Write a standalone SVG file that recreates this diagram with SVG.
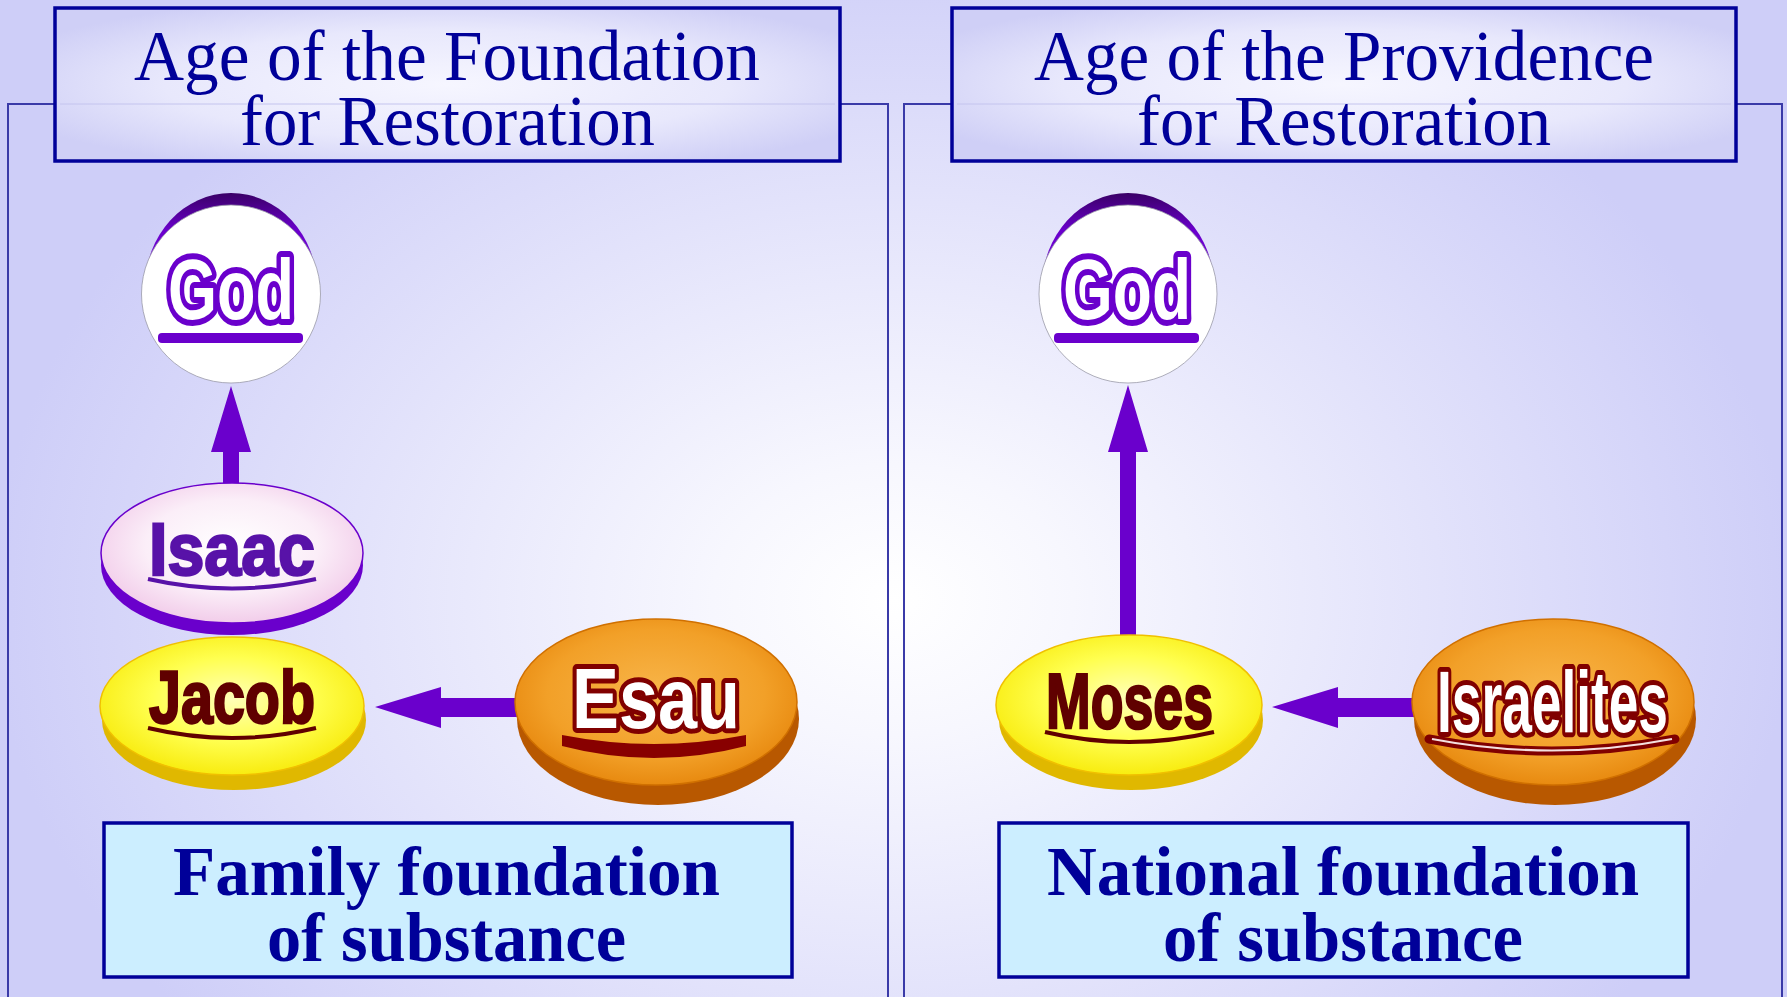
<svg xmlns="http://www.w3.org/2000/svg" width="1787" height="997" viewBox="0 0 1787 997">
<defs>
<radialGradient id="bg" gradientUnits="userSpaceOnUse" cx="893" cy="600" r="900" gradientTransform="translate(893 600) scale(1 0.75) translate(-893 -600)">
<stop offset="0" stop-color="#ffffff"/>
<stop offset="0.2" stop-color="#f7f7fe"/>
<stop offset="1" stop-color="#cecef8"/>
</radialGradient>
<radialGradient id="titleFill" cx="0.5" cy="0.5" r="0.6">
<stop offset="0" stop-color="#f6f6ff"/>
<stop offset="0.6" stop-color="#e8e8fc"/>
<stop offset="1" stop-color="#cfcff6"/>
</radialGradient>
<linearGradient id="godCap" x1="0" y1="0" x2="0" y2="1">
<stop offset="0" stop-color="#3a0066"/>
<stop offset="0.2" stop-color="#6a00cc"/>
<stop offset="1" stop-color="#8a20ee"/>
</linearGradient>
<radialGradient id="isaacFace" cx="0.5" cy="0.45" r="0.55">
<stop offset="0" stop-color="#ffffff"/>
<stop offset="0.6" stop-color="#fbeef8"/>
<stop offset="1" stop-color="#f2cdea"/>
</radialGradient>
<radialGradient id="yellowFace" cx="0.5" cy="0.45" r="0.55">
<stop offset="0" stop-color="#ffffb8"/>
<stop offset="0.55" stop-color="#ffff50"/>
<stop offset="1" stop-color="#f8ec10"/>
</radialGradient>
<radialGradient id="orangeFace" cx="0.5" cy="0.45" r="0.55">
<stop offset="0" stop-color="#f8b54a"/>
<stop offset="0.7" stop-color="#f2a028"/>
<stop offset="1" stop-color="#e88a10"/>
</radialGradient>
</defs>
<style>
.panel{fill:none;stroke:#3a3aa8;stroke-width:2}
.title{fill:url(#titleFill);stroke:#000099;stroke-width:3.5}
.titleText{font-family:"Liberation Serif","Times New Roman",serif;font-size:71px;fill:#000099;text-anchor:start}
.foot{fill:#cceeff;stroke:#000099;stroke-width:3.5}
.footText{font-family:"Liberation Serif","Times New Roman",serif;font-size:70px;font-weight:bold;fill:#000099}
.lbl{font-family:"Liberation Sans",Arial,sans-serif;font-weight:bold}
.godTxt{fill:#ffffff;stroke:#6a00cc;stroke-width:12;paint-order:stroke;stroke-linejoin:round}
.purpleTxt{fill:#5812a8;stroke:#5812a8;stroke-width:2.5}
.maroonTxt{fill:#600000;stroke:#600000;stroke-width:2.5}
.whiteTxt{fill:#ffffff;stroke:#800000;stroke-width:10;paint-order:stroke;stroke-linejoin:round}
.arrow{fill:#6a00cc}
</style>
<rect x="0" y="0" width="1787" height="997" fill="url(#bg)"/>
<rect class="panel" x="8" y="104" width="880" height="900"/>
<rect class="panel" x="904" y="104" width="878" height="900"/>

<g id="title-left">
<rect class="title" x="55" y="8" width="785" height="153"/>
<line x1="60" y1="104" x2="835" y2="104" stroke="#c4c4ee" stroke-width="1"/>
<text class="titleText" x="134" y="80" textLength="626" lengthAdjust="spacingAndGlyphs">Age of the Foundation</text>
<text class="titleText" x="240" y="145" textLength="415" lengthAdjust="spacingAndGlyphs">for Restoration</text>
</g>
<g id="title-right">
<rect class="title" x="952" y="8" width="784" height="153"/>
<line x1="957" y1="104" x2="1731" y2="104" stroke="#c4c4ee" stroke-width="1"/>
<text class="titleText" x="1034" y="80" textLength="620" lengthAdjust="spacingAndGlyphs">Age of the Providence</text>
<text class="titleText" x="1137" y="145" textLength="414" lengthAdjust="spacingAndGlyphs">for Restoration</text>
</g>

<g id="connectors">
<polygon class="arrow" points="223,490 239,490 239,452 251,452 231,386 211,452 223,452"/>
<polygon class="arrow" points="1120,640 1136,640 1136,452 1148,452 1128,385 1108,452 1120,452"/>
<polygon class="arrow" points="520,698 520,717 441,717 441,728 375,707 441,687 441,698"/>
<polygon class="arrow" points="1417,698 1417,717 1338,717 1338,728 1272,707 1338,687 1338,698"/>
</g>

<g id="node-god-left">
<ellipse cx="231" cy="287" rx="86" ry="94" fill="url(#godCap)"/>
<ellipse cx="231" cy="294" rx="89.5" ry="89" fill="#ffffff" stroke="#9a9aa8" stroke-width="0.8"/>
<text class="lbl godTxt" x="168" y="319" font-size="85" textLength="126" lengthAdjust="spacingAndGlyphs">God</text>
<rect x="158" y="333" width="145" height="10" rx="4" fill="#6a00cc"/>
</g>
<g id="node-god-right">
<ellipse cx="1128" cy="287" rx="86" ry="94" fill="url(#godCap)"/>
<ellipse cx="1128" cy="294" rx="89" ry="89" fill="#ffffff" stroke="#9a9aa8" stroke-width="0.8"/>
<text class="lbl godTxt" x="1063" y="319" font-size="85" textLength="128" lengthAdjust="spacingAndGlyphs">God</text>
<rect x="1054" y="333" width="145" height="10" rx="4" fill="#6a00cc"/>
</g>

<g id="node-isaac">
<ellipse cx="232" cy="565" rx="131" ry="70" fill="#6a00cc"/>
<ellipse cx="232" cy="553" rx="131" ry="70" fill="url(#isaacFace)" stroke="#6a00cc" stroke-width="1.5"/>
<text class="lbl purpleTxt" x="149" y="575" font-size="74" textLength="166" lengthAdjust="spacingAndGlyphs">Isaac</text>
<path d="M148,579 Q232,598 316,579" fill="none" stroke="#5812a8" stroke-width="4"/>
</g>
<g id="node-jacob">
<ellipse cx="234" cy="720" rx="132" ry="70" fill="#e0b800"/>
<ellipse cx="232" cy="706" rx="132" ry="69" fill="url(#yellowFace)" stroke="#f0c000" stroke-width="1.5"/>
<text class="lbl maroonTxt" x="149" y="723" font-size="74" textLength="166" lengthAdjust="spacingAndGlyphs">Jacob</text>
<path d="M148,728 Q232,748 316,728" fill="none" stroke="#600000" stroke-width="4"/>
</g>
<g id="node-esau">
<ellipse cx="658" cy="719" rx="141" ry="86" fill="#b85800"/>
<ellipse cx="656" cy="702" rx="141" ry="83" fill="url(#orangeFace)" stroke="#d07000" stroke-width="1.5"/>
<text class="lbl whiteTxt" x="572" y="728" font-size="85" textLength="168" lengthAdjust="spacingAndGlyphs">Esau</text>
<path d="M562,735 Q654,753 746,735 L746,746 Q654,770 562,746 Z" fill="#880000"/>
</g>

<g id="node-moses">
<ellipse cx="1131" cy="720" rx="132" ry="70" fill="#e0b800"/>
<ellipse cx="1129" cy="705" rx="133" ry="70" fill="url(#yellowFace)" stroke="#f0c000" stroke-width="1.5"/>
<text class="lbl maroonTxt" x="1046" y="728" font-size="78" textLength="167" lengthAdjust="spacingAndGlyphs">Moses</text>
<path d="M1045,732 Q1129,752 1214,732" fill="none" stroke="#600000" stroke-width="4"/>
</g>
<g id="node-israelites">
<ellipse cx="1555" cy="719" rx="141" ry="86" fill="#b85800"/>
<ellipse cx="1553" cy="702" rx="141" ry="83" fill="url(#orangeFace)" stroke="#d07000" stroke-width="1.5"/>
<text class="lbl whiteTxt" x="1437" y="732" font-size="87" textLength="231" lengthAdjust="spacingAndGlyphs">Israelites</text>
<path d="M1429,739 Q1552,763 1675,739" fill="none" stroke="#800000" stroke-width="9" stroke-linecap="round"/>
<path d="M1432,739 Q1552,762 1672,739" fill="none" stroke="#f4e0e0" stroke-width="2"/>
</g>

<g id="foot-left">
<rect class="foot" x="104" y="823" width="688" height="154"/>
<text class="footText" x="173" y="895" textLength="547" lengthAdjust="spacingAndGlyphs">Family foundation</text>
<text class="footText" x="267" y="961" textLength="359" lengthAdjust="spacingAndGlyphs">of substance</text>
</g>
<g id="foot-right">
<rect class="foot" x="999" y="823" width="689" height="154"/>
<text class="footText" x="1047" y="895" textLength="592" lengthAdjust="spacingAndGlyphs">National foundation</text>
<text class="footText" x="1163" y="961" textLength="360" lengthAdjust="spacingAndGlyphs">of substance</text>
</g>
</svg>
